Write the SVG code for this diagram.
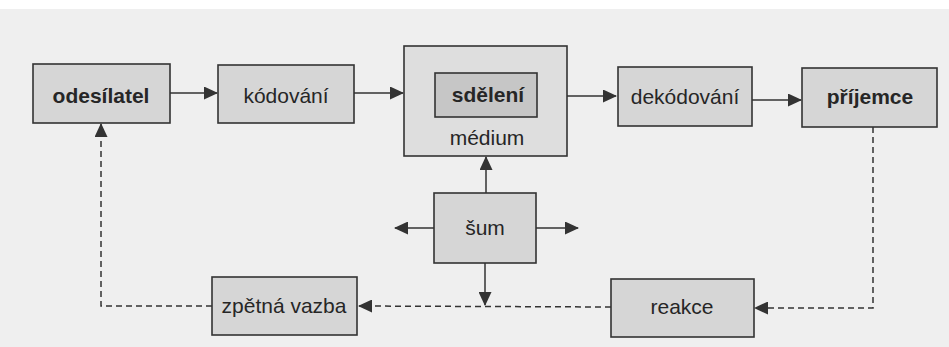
<svg xmlns="http://www.w3.org/2000/svg" width="949" height="347" viewBox="0 0 949 347">
<style>
.box{fill:#d6d6d6;stroke:#333333;stroke-width:1.6}
.med{fill:#dedede;stroke:#333333;stroke-width:1.6}
.inner{fill:#c6c6c6;stroke:#333333;stroke-width:1.6}
.t{font-family:"Liberation Sans",Arial,sans-serif;font-size:21px;fill:#262626;text-anchor:middle}
.b{font-weight:bold}
.ln{stroke:#333333;stroke-width:1.5;fill:none}
.d{stroke-dasharray:6 4}
</style>
<defs>
<marker id="ah" viewBox="0 0 14 13" refX="13" refY="6.5" markerWidth="14" markerHeight="13" markerUnits="userSpaceOnUse" orient="auto">
<path d="M0,0 L14,6.5 L0,13 Z" fill="#333333"/>
</marker>
</defs>
<rect x="0" y="0" width="949" height="347" fill="#efefef"/>
<rect x="0" y="0" width="949" height="9" fill="#ffffff"/>
<g id="connectors">
<line class="ln" x1="170" y1="93" x2="217" y2="93" marker-end="url(#ah)"/>
<line class="ln" x1="354" y1="93" x2="403" y2="93" marker-end="url(#ah)"/>
<line class="ln" x1="567" y1="96" x2="616" y2="96" marker-end="url(#ah)"/>
<line class="ln" x1="752" y1="100" x2="801" y2="100" marker-end="url(#ah)"/>
<line class="ln" x1="486" y1="193" x2="486" y2="157" marker-end="url(#ah)"/>
<line class="ln" x1="434" y1="228" x2="395" y2="228" marker-end="url(#ah)"/>
<line class="ln" x1="536" y1="228" x2="578" y2="228" marker-end="url(#ah)"/>
<line class="ln" x1="485" y1="263" x2="485" y2="305" marker-end="url(#ah)"/>
<polyline class="ln d" points="873,127 873,308 755,308" marker-end="url(#ah)"/>
<line class="ln d" x1="611" y1="307" x2="359" y2="306" marker-end="url(#ah)"/>
<polyline class="ln d" points="212,306 101,306 101,124" marker-end="url(#ah)"/>
</g>
<g id="odesilatel">
<rect class="box" x="33" y="64" width="137" height="59"/>
<text class="t b" x="101" y="103">odesílatel</text>
</g>
<g id="kodovani">
<rect class="box" x="218" y="65" width="136" height="58"/>
<text class="t" x="286" y="103">kódování</text>
</g>
<g id="medium">
<rect class="med" x="404" y="46" width="163" height="110"/>
<text class="t" x="487" y="145">médium</text>
</g>
<g id="sdeleni">
<rect class="inner" x="435" y="73" width="102" height="44"/>
<text class="t b" x="488" y="102">sdělení</text>
</g>
<g id="dekodovani">
<rect class="box" x="618" y="67" width="134" height="59"/>
<text class="t" x="685" y="104">dekódování</text>
</g>
<g id="prijemce">
<rect class="box" x="802" y="68" width="135" height="59"/>
<text class="t b" x="870" y="104">příjemce</text>
</g>
<g id="sum">
<rect class="box" x="434" y="193" width="102" height="70"/>
<text class="t" x="485" y="235">šum</text>
</g>
<g id="zpetna_vazba">
<rect class="box" x="212" y="277" width="145" height="58"/>
<text class="t" x="284" y="313">zpětná vazba</text>
</g>
<g id="reakce">
<rect class="box" x="611" y="279" width="143" height="58"/>
<text class="t" x="682" y="314">reakce</text>
</g>
</svg>
